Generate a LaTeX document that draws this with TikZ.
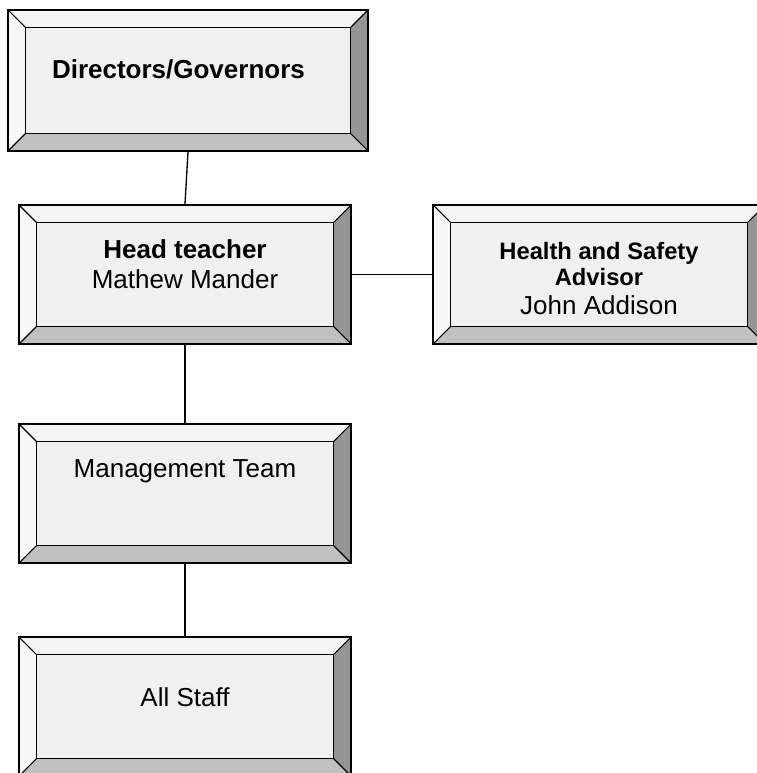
\documentclass[tikz,border=0pt]{standalone}
\usepackage{fontspec}
\setmainfont{Liberation Sans}
\usetikzlibrary{positioning}
\definecolor{bevelface}{HTML}{F0F0F0}
\definecolor{beveltop}{HTML}{F4F4F4}
\definecolor{bevelleft}{HTML}{F8F8F8}
\definecolor{bevelbottom}{HTML}{C0C0C0}
\definecolor{bevelright}{HTML}{959595}
\newcommand{\bevw}{13pt}
\tikzset{
  bevel/.style={draw,line width=1.5pt,fill=bevelface,inner sep=0pt,
    minimum width=249pt,minimum height=104.25pt,align=center,
    font=\fontsize{19.5}{22.5}\selectfont,
    path picture={
      \path (path picture bounding box.north west) coordinate (o1)
            (path picture bounding box.north east) coordinate (o2)
            (path picture bounding box.south east) coordinate (o3)
            (path picture bounding box.south west) coordinate (o4)
            ([shift={(\bevw,-\bevw)}]o1) coordinate (i1)
            ([shift={(-\bevw,-\bevw)}]o2) coordinate (i2)
            ([shift={(-\bevw,\bevw)}]o3) coordinate (i3)
            ([shift={(\bevw,\bevw)}]o4) coordinate (i4);
      \fill[beveltop] (o1) -- (o2) -- (i2) -- (i1) -- cycle;
      \fill[bevelright] (o2) -- (o3) -- (i3) -- (i2) -- cycle;
      \fill[bevelbottom] (o3) -- (o4) -- (i4) -- (i3) -- cycle;
      \fill[bevelleft] (o4) -- (o1) -- (i1) -- (i4) -- cycle;
      \draw[line width=1pt] (i1) -- (i2) -- (i3) -- (i4) -- cycle;
      \draw[line width=0.8pt] (o1) -- (i1) (o2) -- (i2) (o3) -- (i3) (o4) -- (i4);
    }},
  hightext/.style={text height=39.75pt,text depth=64.5pt},
  lowtext/.style={text height=51.75pt,text depth=52.5pt},
  link/.style={line width=1pt}
}
\begin{document}
\begin{tikzpicture}[x=0.75pt,y=-0.75pt]
    \useasboundingbox (0,0) rectangle (756,773);
    %% Boxes
    \node[bevel,minimum width=270pt,minimum height=105.75pt,text height=51.75pt,text depth=54pt,
          align=left,text width=204pt,inner xsep=33pt] (board) at (188,80.5) {\textbf{Directors/Governors}};
    \node[bevel,text height=62.25pt,text depth=42pt] (head) at (185,274.5) {\textbf{Head teacher}\\Mathew Mander};
    \node[bevel,text height=81.75pt,text depth=22.5pt] (safety) at (599,274.5)
        {\fontsize{17.8}{19.5}\selectfont\bfseries Health and Safety\\[-3pt]
         \fontsize{17.8}{19.5}\selectfont\bfseries Advisor\\[-0.75pt]
         John Addison};
    \node[bevel,hightext] (mgmt) at (185,493.5) {Management Team};
    \node[bevel,lowtext] (staff) at (185,706.5) {All Staff};
    %% Links
    \draw[link] (board.south) -- (head.north);
    \draw[link] (head.east) -- (safety.west);
    \draw[link] (head.south) -- (mgmt.north);
    \draw[link] (mgmt.south) -- (staff.north);
\end{tikzpicture}
\end{document}
